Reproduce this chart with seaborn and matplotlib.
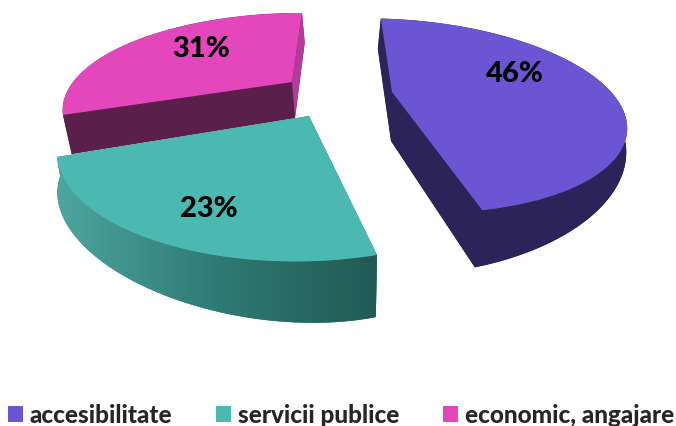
import numpy as np
import matplotlib
matplotlib.use('Agg')
import matplotlib.pyplot as plt
import matplotlib.transforms as mtransforms
from matplotlib.colors import LinearSegmentedColormap
from matplotlib.patches import Patch, Polygon
import seaborn as sns

categories = ['accesibilitate', 'servicii publice', 'economic, angajare']
values = [46, 23, 31]

top_colors = ['#6b55d3', '#4bb9b2', '#e347bb']
wall_colors = ['#2c2358', '#4a9f99', '#5a1f4b']
start_cut_colors = ['#2c2358', '#2c7a74', '#5a1f4b']
end_cut_colors = ['#2c2358', '#2c7a74', '#b53a9c']

# perspective of each exploded slice: apex in pixels, then a, b, c, d, e, f, start angle
top_view = [
    ((392, 93), (221.118, -25.730, 1.030, -91.584, 0.005, 0.245, 86.952)),
    ((309, 117), (234.657, -1.298, -2.402, -103.462, 0.030, 0.287, -78.182)),
    ((292, 83), (222.942, 2.346, -2.215, -87.325, -0.011, 0.266, -161.042)),
]
bottom_view = [
    ((391, 142), (207.973, -28.699, -24.844, -107.783, -0.066, 0.190, 86.404)),
    ((309, 177), (175.712, -14.781, 22.610, -81.815, 0.226, 0.440, -81.734)),
    ((295, 119), (217.4, 2.287, -2.420, -95.360, -0.011, 0.266, -161.042)),
]
label_pos = [(515, 74), (209, 209), (201, 49)]


class SliceProjection(mtransforms.Transform):
    input_dims = 2
    output_dims = 2

    def __init__(self, apex, view):
        super().__init__()
        self.apex = apex
        self.view = view

    def transform_non_affine(self, xy):
        a, b, c, d, e, f, _ = self.view
        xy = np.asarray(xy)
        x, y = xy[:, 0], xy[:, 1]
        w = 1 + e * x + f * y
        return np.column_stack([self.apex[0] + (a * x + b * y) / w,
                                self.apex[1] + (c * x + d * y) / w])


def rim(apex, view, value):
    """Outer edge of one slice, in pixels."""
    t = np.radians(np.linspace(view[6], view[6] - 3.6 * value, 120))
    return SliceProjection(apex, view).transform_non_affine(np.column_stack([np.cos(t), np.sin(t)]))


sns.set_theme(style='white')
plt.rcParams['font.family'] = ['Lato', 'DejaVu Sans']
palette = sns.color_palette(top_colors)

fig, ax = plt.subplots(figsize=(6.76, 4.27), dpi=100)
fig.subplots_adjust(0, 0, 1, 1)

# magenta sits behind teal, purple stands apart
for layer, i in enumerate([2, 1, 0]):
    z = (layer + 1) * 10
    apex, view = top_view[i]
    low_apex, low_view = bottom_view[i]
    top_rim = rim(apex, view, values[i])
    low_rim = rim(low_apex, low_view, values[i])

    ax.add_patch(Polygon(np.vstack([low_apex, low_rim]), closed=True, fc=wall_colors[i], ec='none', lw=0, zorder=z))
    wall = Polygon(np.vstack([top_rim, low_rim[::-1]]), closed=True, fc=wall_colors[i], ec='none', lw=0, zorder=z + 1)
    ax.add_patch(wall)
    # the two cut faces of the slice
    ax.add_patch(Polygon([apex, top_rim[0], low_rim[0], low_apex], closed=True,
                         fc=start_cut_colors[i], ec='none', lw=0, zorder=z + 2))
    ax.add_patch(Polygon([apex, top_rim[-1], low_rim[-1], low_apex], closed=True,
                         fc=end_cut_colors[i], ec='none', lw=0, zorder=z + 2))

    if i == 1:
        ramp = LinearSegmentedColormap.from_list('teal_wall', ['#4ea59f', '#2f7a74', '#225a54'])
        img = ax.imshow(np.linspace(0, 1, 256)[None, :], cmap=ramp, aspect='auto',
                        extent=(low_rim[:, 0].min(), top_rim[:, 0].max(), 430, 0), zorder=z + 3)
        img.set_clip_path(wall)

    wedges, _ = ax.pie([values[i], 100 - values[i]], startangle=view[6], counterclock=False,
                       colors=[palette[i], 'none'], radius=1, wedgeprops={'linewidth': 0, 'edgecolor': 'none'})
    wedges[0].set_transform(SliceProjection(apex, view) + ax.transData)
    wedges[0].set_zorder(z + 4)
    wedges[0].set_clip_on(False)
    wedges[1].remove()
    ax.text(label_pos[i][0], label_pos[i][1], f'{values[i]}%', fontsize=21, fontweight=900, color='black',
            ha='center', va='center', zorder=100)

ax.set_aspect('auto')
ax.set_xlim(0, 676)
ax.set_ylim(427, 0)
ax.axis('off')

handles = [Patch(color=c, lw=0) for c in palette]
ax.legend(handles, categories, ncols=3, loc='center', bbox_to_anchor=(341 / 676, 1 - 416 / 427),
          frameon=False, prop={'family': 'Lato', 'weight': 900, 'size': 17.5},
          handlelength=0.61, handleheight=0.61, handletextpad=0.29, columnspacing=1.8, borderpad=0, borderaxespad=0)

fig.savefig('out.png', dpi=100)
